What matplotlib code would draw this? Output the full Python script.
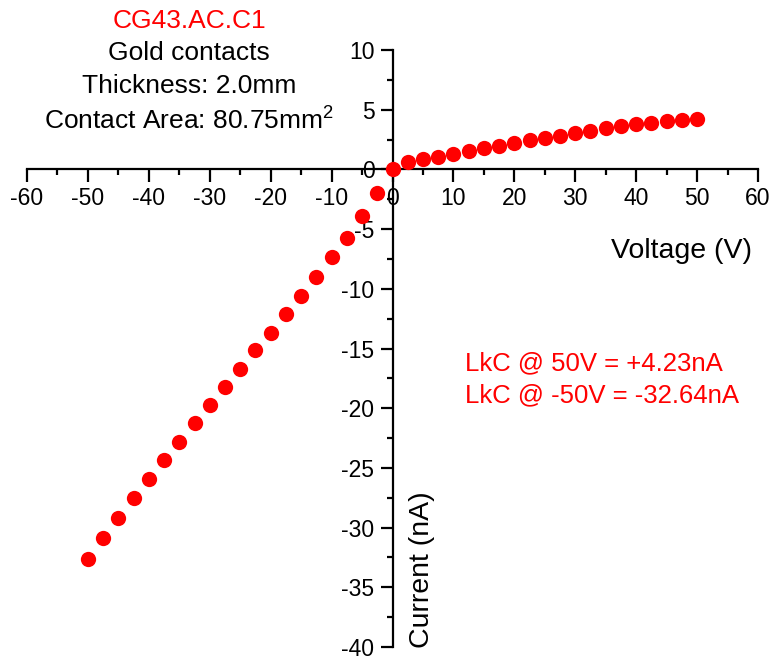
import matplotlib
matplotlib.use("Agg")
import matplotlib.pyplot as plt
from matplotlib.ticker import MultipleLocator

plt.rcParams['font.family'] = ['Liberation Sans', 'DejaVu Sans']
plt.rcParams['axes.unicode_minus'] = False
plt.rcParams['mathtext.fontset'] = 'custom'
plt.rcParams['mathtext.rm'] = 'Liberation Sans'
plt.rcParams['mathtext.it'] = 'Liberation Sans'
plt.rcParams['mathtext.bf'] = 'Liberation Sans'

voltage = [-50, -47.5, -45, -42.5, -40, -37.5, -35, -32.5, -30, -27.5, -25,
           -22.5, -20, -17.5, -15, -12.5, -10, -7.5, -5, -2.5, 0,
           2.5, 5, 7.5, 10, 12.5, 15, 17.5, 20, 22.5, 25,
           27.5, 30, 32.5, 35, 37.5, 40, 42.5, 45, 47.5, 50]
current = [-32.64, -30.9, -29.2, -27.53, -25.95, -24.37, -22.8, -21.28, -19.75, -18.25, -16.7,
           -15.15, -13.7, -12.11, -10.58, -9.03, -7.33, -5.73, -3.92, -2.0, 0.0,
           0.6, 0.89, 1.08, 1.3, 1.55, 1.78, 1.97, 2.19, 2.44, 2.66,
           2.83, 3.03, 3.25, 3.44, 3.61, 3.78, 3.91, 4.03, 4.14, 4.23]

title_lines = ["CG43.AC.C1", "Gold contacts", "Thickness: 2.0mm", "Contact Area: 80.75mm$^2$"]
leak_lines = ["LkC @ 50V = +4.23nA", "LkC @ -50V = -32.64nA"]

W, H = 773, 659
fig = plt.figure(figsize=(W / 100, H / 100), dpi=100)
# axes: x -60..60 spans px 27..758, y -40..10 spans px 647..50
ax = fig.add_axes([27 / W, 12 / H, 731 / W, 597 / H])

ax.plot(voltage, current, linestyle='none', marker='o', markersize=11,
        color='#ff0000', markeredgewidth=0, clip_on=False, zorder=3)

ax.set_xlim(-60, 60)
ax.set_ylim(-40, 10)

for s in ['top', 'right']:
    ax.spines[s].set_visible(False)
ax.spines['left'].set_position(('data', 0))
ax.spines['bottom'].set_position(('data', 0))
for s in ['left', 'bottom']:
    ax.spines[s].set_linewidth(1.6)

ax.xaxis.set_major_locator(MultipleLocator(10))
ax.xaxis.set_minor_locator(MultipleLocator(5))
ax.yaxis.set_major_locator(MultipleLocator(5))
ax.yaxis.set_minor_locator(MultipleLocator(2.5))
ax.tick_params(which='major', direction='out', length=9, width=1.6, labelsize=16.5)
ax.tick_params(which='minor', direction='out', length=4.5, width=1.6)
ax.tick_params(axis='x', which='major', pad=4)
ax.tick_params(axis='y', which='major', pad=4)


def fx(px):
    return px / W


def fy(py):
    return 1 - py / H


ax.text(fx(752), fy(251), "Voltage (V)", transform=fig.transFigure,
        ha='right', va='center', fontsize=20.5)
ax.text(fx(422), fy(648), "Current (nA)", transform=fig.transFigure,
        ha='center', va='bottom', rotation=90, fontsize=20.5)

ys = [21, 53, 86, 121]
colors = ['#ff0000', 'black', 'black', 'black']
for t, y, c in zip(title_lines, ys, colors):
    fig.text(fx(189), fy(y), t, ha='center', va='center', fontsize=19, color=c)

for t, y in zip(leak_lines, [363, 395]):
    fig.text(fx(465), fy(y), t, ha='left', va='center', fontsize=18.5, color='#ff0000')

fig.savefig("out.png", dpi=100)
